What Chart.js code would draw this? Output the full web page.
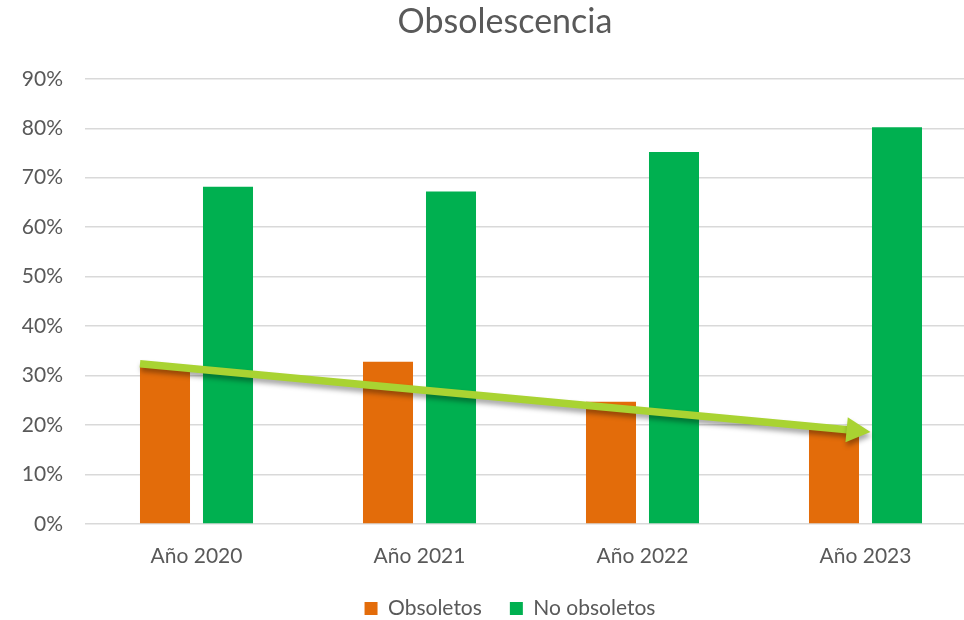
<!DOCTYPE html>
<html>
<head>
<meta charset="utf-8">
<script src="https://cdn.jsdelivr.net/npm/chart.js@4/dist/chart.umd.min.js"></script>
<style>
html,body{margin:0;padding:0;background:#fff;overflow:hidden;width:964px;height:620px;}
#wrap{width:1010px;height:630px;}
</style>
</head>
<body>
<div id="wrap"><canvas id="c" width="1010" height="630"></canvas></div>
<script>
const categories = ['Año 2020', 'Año 2021', 'Año 2022', 'Año 2023'];
const obsoletos = [31.8, 32.8, 24.7, 19.0];
const noObsoletos = [68.2, 67.2, 75.2, 80.2];
const trendStart = 32.4;
const trendEnd = 18.6;
const yTicks = [0, 10, 20, 30, 40, 50, 60, 70, 80, 90];

const FONT = 'Lato, "Liberation Sans", sans-serif';
const TXT = '#595959';

const axisFix = {
  id: 'axisFix',
  afterLayout(chart) {
    chart.scales.y.left = 0;
    chart.legend.left += 5;
    chart.legend.right += 5;
  }
};

const arrowPlugin = {
  id: 'trendArrow',
  afterDatasetsDraw(chart) {
    const ctx = chart.ctx;
    const y = chart.scales.y;
    const meta0 = chart.getDatasetMeta(0);
    const first = meta0.data[0];
    const last = meta0.data[3];
    const nextMeta = chart.getDatasetMeta(1).data[3];
    const x1 = first.x - first.width / 2;
    const y1 = y.getPixelForValue(trendStart);
    const x2 = (last.x + nextMeta.x) / 2 + 5;
    const y2 = y.getPixelForValue(trendEnd);
    const ang = Math.atan2(y2 - y1, x2 - x1);
    const headLen = 24, headW = 12.5;
    const bx = x2 - headLen * Math.cos(ang), by = y2 - headLen * Math.sin(ang);
    ctx.save();
    ctx.shadowColor = 'rgba(0,0,0,0.35)';
    ctx.shadowBlur = 5;
    ctx.shadowOffsetX = 1;
    ctx.shadowOffsetY = 4;
    ctx.fillStyle = '#A9D332';
    ctx.strokeStyle = '#A9D332';
    ctx.lineWidth = 7.5;
    ctx.beginPath();
    ctx.moveTo(x1, y1);
    ctx.lineTo(bx + 1 * Math.cos(ang), by + 1 * Math.sin(ang));
    ctx.stroke();
    ctx.beginPath();
    ctx.moveTo(x2, y2);
    ctx.lineTo(bx - headW * Math.sin(ang), by + headW * Math.cos(ang));
    ctx.lineTo(bx + headW * Math.sin(ang), by - headW * Math.cos(ang));
    ctx.closePath();
    ctx.fill();
    ctx.restore();
  }
};

new Chart(document.getElementById('c'), {
  type: 'bar',
  data: {
    labels: categories,
    datasets: [
      { label: 'Obsoletos', data: obsoletos, backgroundColor: '#E36C0A', categoryPercentage: 0.565, barPercentage: 0.794 },
      { label: 'No obsoletos', data: noObsoletos, backgroundColor: '#00B050', categoryPercentage: 0.565, barPercentage: 0.794 }
    ]
  },
  options: {
    responsive: false,
    animation: false,
    layout: { padding: { left: 33, right: 33, top: 0, bottom: 1 } },
    plugins: {
      title: {
        display: true, text: 'Obsolescencia', color: TXT,
        font: { family: FONT, size: 34, weight: 'normal' },
        padding: { top: 2, bottom: 36 }
      },
      legend: {
        position: 'bottom',
        labels: {
          color: TXT, font: { family: FONT, size: 21 },
          boxWidth: 13, boxHeight: 13, padding: 28
        }
      },
      tooltip: { enabled: false }
    },
    scales: {
      x: {
        afterFit(s) { s.height = 46; },
        grid: { display: false, drawTicks: false },
        border: { display: false },
        ticks: { color: TXT, font: { family: FONT, size: 21 }, padding: 20 }
      },
      y: {
        min: 0, max: 90,
        afterBuildTicks(s) { s.ticks = yTicks.map(v => ({ value: v })); },
        afterFit(s) { s.width = 52; },
        grid: { color: '#D9D9D9', lineWidth: 1.5, drawTicks: false },
        border: { display: false },
        ticks: { color: TXT, font: { family: FONT, size: 21 }, padding: 22, callback: v => v + '%' }
      }
    }
  },
  plugins: [axisFix, arrowPlugin]
});
</script>
</body>
</html>
